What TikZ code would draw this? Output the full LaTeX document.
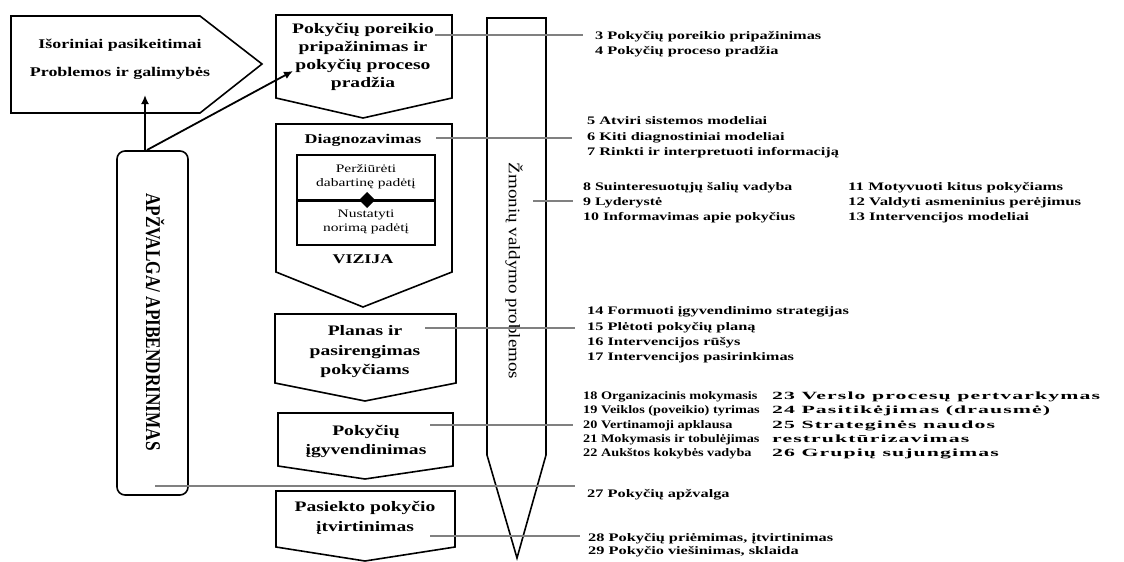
\documentclass[tikz,border=0pt]{standalone}
\usepackage{fontspec}
\setmainfont{Liberation Serif}
\newfontfamily\widefont{Liberation Serif}[FakeStretch=1.35]
\usetikzlibrary{arrows.meta}

% horizontally widened text for the topic lists
\newcommand\wx[2]{\scalebox{#1}[1]{#2}}
% widened and slightly letter-spaced text for the last column
\newcommand\wls[2]{\scalebox{#1}[1]{\addfontfeature{LetterSpace=5}#2}}

\tikzset{
  outline/.style={draw=black, line width=1.6pt, line join=miter, fill=white},
  title/.style={font={\widefont\bfseries\fontsize{14.5}{18}\selectfont}, align=center, inner sep=0pt},
  small/.style={font={\widefont\fontsize{11.5}{14}\selectfont}, align=center, inner sep=0pt},
  entry/.style={font={\bfseries\fontsize{11.5}{13}\selectfont}, anchor=base west, inner sep=0pt},
  entryr/.style={font={\bfseries\fontsize{11}{13}\selectfont}, anchor=base west, inner sep=0pt},
  leader/.style={draw=black!50, line width=1.2pt},
  pointer/.style={draw=black, line width=1.8pt, -{Latex[length=9pt,width=8pt]}},
}

\begin{document}
\begin{tikzpicture}[x=1pt,y=-1pt]
\useasboundingbox (0,0) rectangle (1124,562);

% external change pentagon
\draw[outline] (11,16) -- (200,16) -- (262,64) -- (200,113) -- (11,113) -- cycle;
\node[title, font={\widefont\bfseries\fontsize{13.3}{16}\selectfont}] (ext1) at (120,45) {Išoriniai pasikeitimai};
\node[title, font={\widefont\bfseries\fontsize{13.3}{16}\selectfont}] (ext2) at (120,73) {Problemos ir galimybės};

% review box
\draw[outline, rounded corners=8pt] (117,151) rectangle (188,495);
\node[inner sep=0pt, rotate=-90] (review) at (155,322)
  {\scalebox{0.82}[1]{\bfseries\fontsize{21}{24}\selectfont APŽVALGA/ APIBENDRINIMAS}};
\coordinate (revA) at (145,151);
\coordinate (revB) at (147,150);

% process stages
\draw[outline] (276,15) -- (452,15) -- (452,98) -- (363,118) -- (276,98) -- cycle;
\node[title] (st1) at (363,57) {Pokyčių poreikio\\pripažinimas ir\\pokyčių proceso\\pradžia};
\coordinate (st1in) at (293,71);

\draw[outline] (276,124) -- (452,124) -- (452,272) -- (363,307) -- (276,272) -- cycle;
\node[title, font={\widefont\bfseries\fontsize{13.3}{16}\selectfont}] (diag) at (363,140) {Diagnozavimas};
\draw[draw=black, line width=1.4pt] (297,155) rectangle (435,200);
\draw[draw=black, line width=1.4pt] (297,200) rectangle (435,245);
\draw[draw=black, line width=3pt] (297,200) -- (435,200);
\node[small] (now) at (366,177) {Peržiūrėti\\dabartinę padėtį};
\node[small] (want) at (366,222) {Nustatyti\\norimą padėtį};
\fill[black] (367,192) -- (375,200) -- (367,208) -- (359,200) -- cycle;
\node[title, font={\widefont\bfseries\fontsize{13.3}{16}\selectfont}] (vis) at (363,259) {VIZIJA};

\draw[outline] (275,314) -- (456,314) -- (456,383) -- (365,401) -- (275,383) -- cycle;
\node[title, font={\widefont\bfseries\fontsize{14.5}{19.5}\selectfont}] (st3) at (365,352) {Planas ir\\pasirengimas\\pokyčiams};

\draw[outline] (278,413) -- (453,413) -- (453,466) -- (365,479) -- (278,466) -- cycle;
\node[title, font={\widefont\bfseries\fontsize{14.5}{19}\selectfont}] (st4) at (366,441) {Pokyčių\\įgyvendinimas};

\draw[outline] (276,491) -- (455,491) -- (455,547) -- (365,561) -- (276,547) -- cycle;
\node[title, font={\widefont\bfseries\fontsize{14.5}{20}\selectfont}] (st5) at (365,518) {Pasiekto pokyčio\\įtvirtinimas};

% people management pencil
\draw[outline] (487,18) -- (546,18) -- (546,455) -- (517,558) -- (487,455) -- cycle;
\node[inner sep=0pt, rotate=-90] (people) at (514,271)
  {\scalebox{1}[0.85]{\fontsize{19}{22}\selectfont Žmonių valdymo problemos}};

% topic lists
\node[entry] (t3) at (595,39) {\wx{1.42}{3 Pokyčių poreikio pripažinimas}};
\node[entry] (t4) at (595,54) {\wx{1.42}{4 Pokyčių proceso pradžia}};
\node[entry] (t5) at (587,124) {\wx{1.42}{5 Atviri sistemos modeliai}};
\node[entry] (t6) at (587,140) {\wx{1.42}{6 Kiti diagnostiniai modeliai}};
\node[entry] (t7) at (587,155) {\wx{1.42}{7 Rinkti ir interpretuoti informaciją}};
\node[entry] (t8) at (583,190) {\wx{1.38}{8 Suinteresuotųjų šalių vadyba}};
\node[entry] (t9) at (583,205) {\wx{1.38}{9 Lyderystė}};
\node[entry] (t10) at (583,220) {\wx{1.38}{10 Informavimas apie pokyčius}};
\node[entry] (t11) at (848,190) {\wx{1.46}{11 Motyvuoti kitus pokyčiams}};
\node[entry] (t12) at (848,205) {\wx{1.46}{12 Valdyti asmeninius perėjimus}};
\node[entry] (t13) at (848,220) {\wx{1.46}{13 Intervencijos modeliai}};
\node[entry] (t14) at (587,314) {\wx{1.42}{14 Formuoti įgyvendinimo strategijas}};
\node[entry] (t15) at (587,330) {\wx{1.42}{15 Plėtoti pokyčių planą}};
\node[entry] (t16) at (587,345) {\wx{1.42}{16 Intervencijos rūšys}};
\node[entry] (t17) at (587,360) {\wx{1.42}{17 Intervencijos pasirinkimas}};
\node[entry] (t18) at (583,399) {\wx{1.24}{18 Organizacinis mokymasis}};
\node[entry] (t19) at (583,413) {\wx{1.24}{19 Veiklos (poveikio) tyrimas}};
\node[entry] (t20) at (583,428) {\wx{1.24}{20 Vertinamoji apklausa}};
\node[entry] (t21) at (583,442) {\wx{1.24}{21 Mokymasis ir tobulėjimas}};
\node[entry] (t22) at (583,456) {\wx{1.24}{22 Aukštos kokybės vadyba}};
\node[entryr] (t23) at (772,399) {\wls{1.98}{23 Verslo procesų pertvarkymas}};
\node[entryr] (t24) at (772,413) {\wls{1.98}{24 Pasitikėjimas (drausmė)}};
\node[entryr] (t25) at (772,428) {\wls{1.98}{25 Strateginės naudos}};
\node[entryr] (t25b) at (772,442) {\wls{1.98}{restruktūrizavimas}};
\node[entryr] (t26) at (772,456) {\wls{1.98}{26 Grupių sujungimas}};
\node[entry] (t27) at (587,497) {\wx{1.42}{27 Pokyčių apžvalga}};
\node[entry] (t28) at (588,541) {\wx{1.42}{28 Pokyčių priėmimas, įtvirtinimas}};
\node[entry] (t29) at (588,554) {\wx{1.42}{29 Pokyčio viešinimas, sklaida}};

% leader lines from the stages to their topics
\coordinate (s1) at (435,35);  \coordinate (e1) at (583,35);
\coordinate (s2) at (436,138); \coordinate (e2) at (572,138);
\coordinate (s3) at (533,201); \coordinate (e3) at (573,201);
\coordinate (s4) at (425,328); \coordinate (e4) at (575,328);
\coordinate (s5) at (430,425); \coordinate (e5) at (573,425);
\coordinate (s6) at (155,486); \coordinate (e6) at (575,486);
\coordinate (s7) at (430,536); \coordinate (e7) at (580,536);
\foreach \i in {1,...,7} { \draw[leader] (s\i) -- (e\i); }

% arrows out of the review box
\coordinate (extIn) at (145,95);
\draw[pointer] (revA) -- (extIn);
\draw[pointer] (revB) -- (st1in);
\end{tikzpicture}
\end{document}
